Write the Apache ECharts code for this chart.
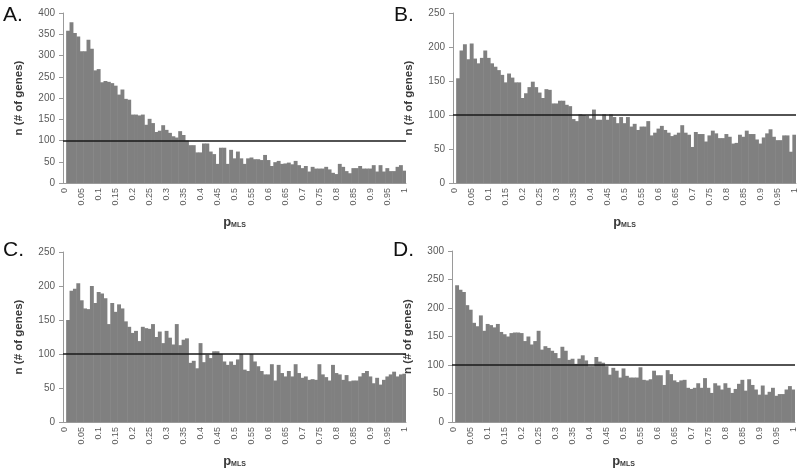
<!DOCTYPE html>
<html>
<head>
<meta charset="utf-8">
<script src="https://cdn.jsdelivr.net/npm/echarts@6/dist/echarts.min.js"></script>
<style>
html,body{margin:0;padding:0;background:#fff;}
#chart{width:800px;height:470px;}
</style>
</head>
<body>
<div id="chart"></div>
<script>
// Bin labels p_MLS = 0, 0.01, ..., 1 (101 bins)
const categories = [];
for (let i = 0; i <= 100; i++) categories.push(String(Number((i / 100).toFixed(2))));

const panelLetters = ['A.', 'B.', 'C.', 'D.'];
const yMax = [400, 250, 250, 300];
const refLine = 100;

const seriesA = [0,
 358,378,353,345,310,310,337,316,265,268,
 237,240,238,235,229,208,220,198,196,161,
 161,159,161,137,151,141,120,123,136,125,
 118,110,107,122,113,100,89,89,72,72,
 93,93,74,68,45,83,83,45,78,58,
 74,58,45,58,60,56,56,54,66,54,
 40,49,52,45,46,48,44,52,42,35,
 40,27,38,34,34,34,38,32,24,21,
 45,38,28,23,35,35,40,34,34,34,
 42,27,42,27,35,28,28,38,42,29];

const seriesB = [0,
 154,195,204,182,205,183,176,184,195,184,
 176,171,166,159,148,161,155,148,148,125,
 132,141,149,141,133,125,138,137,117,117,
 121,121,115,113,94,91,101,100,99,95,
 108,93,93,101,93,101,97,88,97,88,
 97,83,87,78,83,83,91,70,74,80,
 84,78,74,69,71,74,85,74,71,53,
 75,72,72,61,70,77,73,66,66,72,
 68,58,59,71,68,77,72,72,64,58,
 67,73,79,68,63,63,70,70,46,71];

const seriesC = [0,
 150,193,196,204,179,167,166,200,175,191,
 189,182,144,175,162,173,167,148,140,131,
 134,119,140,138,137,144,125,133,116,134,
 124,114,144,113,121,123,87,90,79,116,
 88,99,94,104,104,100,89,84,89,84,
 92,100,77,75,100,89,82,75,70,70,
 85,61,84,72,67,75,67,85,72,65,
 67,62,63,62,85,70,66,61,84,72,
 70,62,69,60,61,61,67,72,75,67,
 57,65,55,62,67,70,74,67,70,71];

const seriesD = [0,
 240,232,228,205,197,174,168,187,160,172,
 170,166,172,158,154,150,156,157,157,156,
 142,150,136,142,160,127,133,130,125,121,
 112,132,125,109,111,102,111,117,108,98,
 98,114,106,104,98,83,95,90,78,94,
 81,78,78,78,96,74,73,75,90,82,
 82,65,91,84,73,70,73,74,60,58,
 60,68,60,77,60,51,68,64,57,68,
 60,51,58,67,74,55,75,65,57,48,
 64,48,53,60,46,49,49,57,63,57];

const allSeries = [seriesA, seriesB, seriesC, seriesD];

const grids = [
  {left: 63, top: 13, width: 343, height: 170},
  {left: 453, top: 13, width: 343, height: 170},
  {left: 63, top: 252, width: 343, height: 170},
  {left: 452, top: 251, width: 343, height: 171}
];
const letterPos = [[3, 5], [394, 5], [3, 240], [393, 240]];

const FONT = 'Liberation Sans';
const axisGray = '#9a9a9a';
const labelGray = '#595959';
const barGray = '#808080';

const xAxes = [], yAxes = [], series = [], graphics = [];
for (let k = 0; k < 4; k++) {
  xAxes.push({
    type: 'category', gridIndex: k, data: categories, boundaryGap: true,
    axisLine: {lineStyle: {color: axisGray, width: 1}},
    axisTick: {interval: 4, length: 4, lineStyle: {color: axisGray}},
    axisLabel: {interval: 4, rotate: 90, fontSize: 9, fontFamily: FONT, color: labelGray, margin: 5},
    name: '{p|p}{s|MLS}', nameLocation: 'middle', nameGap: 33,
    nameTextStyle: {
      rich: {
        p: {fontSize: 13, fontWeight: 'bold', fontFamily: FONT, color: '#3a3a3a'},
        s: {fontSize: 7, fontWeight: 'bold', fontFamily: FONT, color: '#3a3a3a', padding: [6, 0, 0, 0]}
      }
    }
  });
  yAxes.push({
    type: 'value', gridIndex: k, min: 0, max: yMax[k], interval: 50,
    splitLine: {show: false},
    axisLine: {show: true, lineStyle: {color: axisGray, width: 1}},
    axisTick: {show: true, length: 4, lineStyle: {color: axisGray}},
    axisLabel: {fontSize: 10, fontFamily: FONT, color: labelGray, margin: 8},
    name: 'n (# of genes)', nameLocation: 'middle', nameGap: 38, nameRotate: 90,
    nameTextStyle: {fontSize: 11.5, fontWeight: 'bold', fontFamily: FONT, color: '#3a3a3a'}
  });
  series.push({
    type: 'bar', xAxisIndex: k, yAxisIndex: k, data: allSeries[k],
    barWidth: 3.9,
    itemStyle: {color: barGray},
    silent: true, animation: false,
    markLine: {
      silent: true, symbol: ['none', 'none'], label: {show: false},
      lineStyle: {color: '#1a1a1a', width: 1.5, type: 'solid'},
      data: [{yAxis: refLine}]
    }
  });
  graphics.push({
    type: 'text', left: letterPos[k][0], top: letterPos[k][1],
    style: {text: panelLetters[k], fontSize: 21, fontFamily: FONT, fill: '#111'}
  });
}

const chart = echarts.init(document.getElementById('chart'));
chart.setOption({
  animation: false,
  backgroundColor: '#fff',
  grid: grids,
  xAxis: xAxes,
  yAxis: yAxes,
  series: series,
  graphic: graphics
});
</script>
</body>
</html>
